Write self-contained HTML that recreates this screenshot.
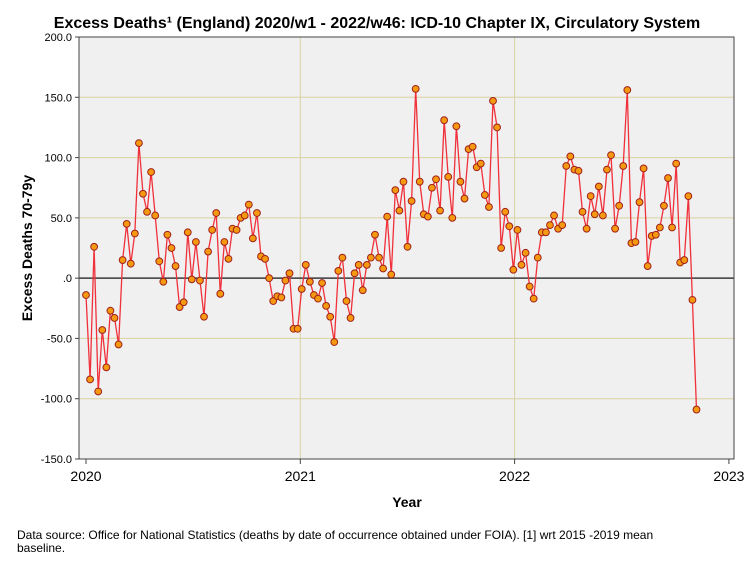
<!DOCTYPE html>
<html><head><meta charset="utf-8"><style>
body{margin:0;background:#fff;font-family:"Liberation Sans",sans-serif;}
svg text{font-family:"Liberation Sans",sans-serif;}
</style></head><body>
<svg id="c" width="754" height="564" xmlns="http://www.w3.org/2000/svg">
<rect x="0" y="0" width="754" height="564" fill="#fff"/>
<text x="377" y="28" text-anchor="middle" font-size="16" font-weight="bold">Excess Deaths¹ (England) 2020/w1 - 2022/w46: ICD-10 Chapter IX, Circulatory System</text>
<rect x="79" y="37" width="655" height="422" fill="#f0f0f0"/>
<g id="grid"></g>
<g id="axes"></g>
<g id="series"></g>
<rect x="79" y="37" width="655" height="422" fill="none" stroke="#444" stroke-width="1"/>
<text x="407" y="507" text-anchor="middle" font-size="14" font-weight="bold">Year</text>
<text transform="translate(32,248) rotate(-90)" text-anchor="middle" font-size="14" font-weight="bold">Excess Deaths 70-79y</text>
<text x="17" y="539" font-size="12">Data source: Office for National Statistics (deaths by date of occurrence obtained under FOIA). [1] wrt 2015 -2019 mean</text>
<text x="17" y="552" font-size="12">baseline.</text>
</svg>
<script>
const yTicks=[200,150,100,50,0,-50,-100,-150];
const yTickLabels=["200.0","150.0","100.0","50.0",".0","-50.0","-100.0","-150.0"];
const years=[2020,2021,2022,2023];
const v2020=[-14,-84,26,-94,-43,-74,-27,-33,-55,15,45,12,37,112,70,55,88,52,14,-3,36,25,10,-24,-20,38,-1,30,-2,-32,22,40,54,-13,30,16,41,40,50,52,61,33,54,18,16,0,-19,-15,-16,-2,4,-42,-42];
const v2021=[-9,11,-3,-14,-17,-4,-23,-32,-53,6,17,-19,-33,4,11,-10,11,17,36,17,8,51,3,73,56,80,26,64,157,80,53,51,75,82,56,131,84,50,126,80,66,107,109,92,95,69,59,147,125,25,55,43];
const v2022=[7,40,11,21,-7,-17,17,38,38,44,52,41,44,93,101,90,89,55,41,68,53,76,52,90,102,41,60,93,156,29,30,63,91,10,35,36,42,60,83,42,95,13,15,68,-18,-109];
const values=v2020.concat(v2021,v2022);
const NS="http://www.w3.org/2000/svg";
function yS(v){return 37+(200-v)*(422/350);}
function xIdx(i){return 86+i*4.07;}
function xYear(y){return 86+(y-2020)*214.3;}
function mk(t,a,p){const e=document.createElementNS(NS,t);for(const k in a)e.setAttribute(k,a[k]);p.appendChild(e);return e;}
const grid=document.getElementById('grid'),axes=document.getElementById('axes'),ser=document.getElementById('series');
yTicks.forEach((t,i)=>{
  const y=yS(t);
  if(t!==0){const g=mk('line',{x1:79,x2:734,y1:y,y2:y,stroke:'#d8d2a2','stroke-width':1},grid);
  
  }
  const tk=mk('line',{x1:75,x2:79,y1:y,y2:y,stroke:'#444'},axes);
  
  
  const tx=mk('text',{x:72,y:y+4,'text-anchor':'end','font-size':11},axes);
  tx.textContent=yTickLabels[i];
  
  
});
years.forEach(yr=>{
  const x=xYear(yr);
  if(yr===2021||yr===2022){const g=mk('line',{x1:x,x2:x,y1:37,y2:459,stroke:'#d8d2a2'},grid);
  
  }
  const tk=mk('line',{x1:x,x2:x,y1:459,y2:464,stroke:'#444'},axes);
  
  
  const tx=mk('text',{x:x,y:481,'text-anchor':'middle','font-size':14},axes);
  tx.textContent=yr;
  
  
});
const zl=mk('line',{x1:79,x2:734,y1:yS(0),y2:yS(0),stroke:'#3a3a3a','stroke-width':1.5},grid);


const pts=values.map((v,i)=>xIdx(i).toFixed(1)+','+yS(v).toFixed(1)).join(' ');
const pl=mk('polyline',{points:pts,fill:'none',stroke:'#f0303a','stroke-width':1.3},ser);


values.forEach((v,i)=>{
  const c=mk('circle',{cx:xIdx(i),cy:yS(v),r:3.4,fill:'#f59a10',stroke:'#a0201a','stroke-width':1},ser);
  
  
});
</script>
</body></html>
